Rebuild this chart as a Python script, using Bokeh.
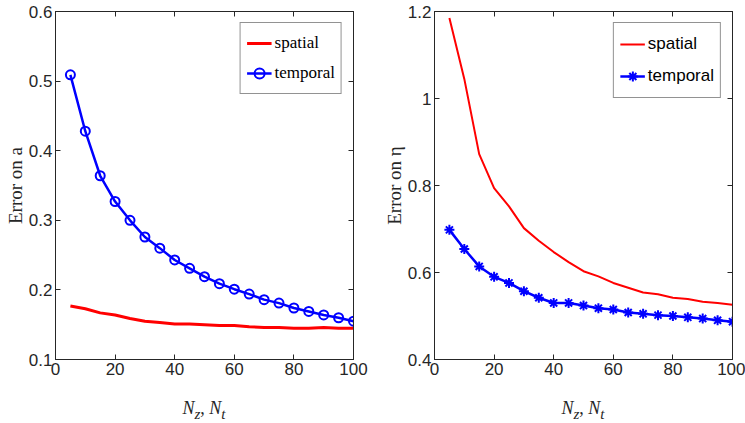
import numpy as np
from bokeh.plotting import figure
from bokeh.layouts import row, column
from bokeh.models import LinearAxis, Range1d, FixedTicker, Div
from bokeh.embed import file_html
from bokeh.resources import INLINE

# ---- data ----
n_values = [5, 10, 15, 20, 25, 30, 35, 40, 45, 50, 55, 60, 65, 70, 75, 80, 85, 90, 95, 100]
a_spatial = [0.177, 0.173, 0.167, 0.164, 0.159, 0.155, 0.153, 0.151, 0.151, 0.150,
             0.149, 0.149, 0.147, 0.146, 0.146, 0.145, 0.145, 0.146, 0.145, 0.145]
a_temporal = [0.509, 0.428, 0.364, 0.327, 0.300, 0.276, 0.260, 0.243, 0.231, 0.219,
              0.209, 0.201, 0.194, 0.186, 0.181, 0.174, 0.169, 0.164, 0.160, 0.155]
eta_spatial = [1.185, 1.045, 0.872, 0.794, 0.752, 0.702, 0.673, 0.647, 0.624, 0.603,
               0.591, 0.576, 0.565, 0.554, 0.550, 0.542, 0.539, 0.533, 0.530, 0.526]
eta_temporal = [0.698, 0.654, 0.614, 0.590, 0.576, 0.557, 0.542, 0.530, 0.530, 0.524,
                0.518, 0.515, 0.508, 0.505, 0.502, 0.500, 0.497, 0.494, 0.490, 0.487]
series_names = ["spatial", "temporal"]
x_ticks = [0, 20, 40, 60, 80, 100]
a_ticks = [0.1, 0.2, 0.3, 0.4, 0.5, 0.6]
a_tick_labels = ["0.1", "0.2", "0.3", "0.4", "0.5", "0.6"]
eta_ticks = [0.4, 0.6, 0.8, 1.0, 1.2]
eta_tick_labels = ["0.4", "0.6", "0.8", "1", "1.2"]
x_label_html = "<i>N</i><sub><i>z</i></sub>, <i>N</i><sub><i>t</i></sub>"

DARK = "#262626"
TICK_FONT = "Liberation Sans"


def style_axis(ax, ticks, labels=None, show_labels=True):
    ax.ticker = FixedTicker(ticks=ticks)
    if labels is not None:
        ax.major_label_overrides = {t: l for t, l in zip(ticks, labels)}
    ax.major_tick_in = 5
    ax.major_tick_out = 0
    ax.minor_tick_line_color = None
    ax.axis_line_color = DARK
    ax.major_tick_line_color = DARK
    ax.major_label_text_color = DARK
    ax.major_label_text_font = TICK_FONT
    ax.major_label_text_font_size = "17px" if show_labels else "0px"
    ax.major_label_standoff = 3
    if not show_labels:
        ax.major_label_standoff = 0
        ax.major_label_text_alpha = 0


def make_panel(width, border_left, border_right, y_lo, y_hi, y_ticks, y_labels,
               spatial, temporal, spatial_width, marker, marker_size, ylabel_sym,
               legend_font, legend_h, legend_pad):
    p = figure(width=width, height=395, x_range=Range1d(0, 100), y_range=Range1d(y_lo, y_hi),
               output_backend="svg", toolbar_location=None,
               min_border_left=border_left, min_border_right=border_right,
               min_border_top=11, min_border_bottom=36)
    p.grid.grid_line_color = None
    p.outline_line_color = DARK
    p.background_fill_color = "white"
    p.border_fill_color = "white"

    style_axis(p.xaxis[0], x_ticks)
    style_axis(p.yaxis[0], y_ticks, y_labels)
    top = LinearAxis()
    style_axis(top, x_ticks, show_labels=False)
    right = LinearAxis()
    style_axis(right, y_ticks, show_labels=False)
    p.add_layout(top, "above")
    p.add_layout(right, "right")

    p.yaxis[0].axis_label = "Error on " + ylabel_sym
    p.yaxis[0].axis_label_text_font = "Liberation Serif"
    p.yaxis[0].axis_label_text_font_style = "normal"
    p.yaxis[0].axis_label_text_font_size = "19px"
    p.yaxis[0].axis_label_text_color = DARK
    p.yaxis[0].axis_label_standoff = 0

    p.line(n_values, spatial, line_color="#ff0000", line_width=spatial_width,
           legend_label=series_names[0])
    p.line(n_values, temporal, line_color="#0000ff", line_width=2.5,
           legend_label=series_names[1])
    p.scatter(n_values, temporal, marker=marker, size=marker_size, line_color="#0000ff",
              fill_color=None, line_width=2, legend_label=series_names[1])

    lg = p.legend[0]
    lg.location = "top_right"
    lg.margin = 11
    lg.padding = legend_pad
    lg.spacing = 2
    lg.label_text_font = legend_font
    lg.label_text_font_size = "17px"
    lg.label_text_color = "black"
    lg.glyph_width = 25
    lg.glyph_height = legend_h
    lg.label_height = legend_h
    lg.label_standoff = 3
    lg.border_line_color = DARK
    lg.border_line_width = 1
    lg.background_fill_alpha = 1
    return p


def make_xlabel(width, border_left):
    return Div(text=x_label_html, width=298, height=28, margin=(0, width - border_left - 298, 0, border_left),
               styles={"font-family": "Liberation Serif", "font-size": "18px", "color": DARK,
                       "text-align": "center", "line-height": "26px"})


left = make_panel(372, 55, 19, 0.1, 0.6, a_ticks, a_tick_labels, a_spatial, a_temporal,
                  3, "circle", 9, "a", "Liberation Serif", 28, 6)
right = make_panel(373, 62, 13, 0.4, 1.2, eta_ticks, eta_tick_labels, eta_spatial, eta_temporal,
                   2, "asterisk", 10, "η", "Liberation Sans", 30, 6)

layout = column(row(left, right, spacing=0),
                row(make_xlabel(372, 55), make_xlabel(373, 62), spacing=0),
                spacing=0)
open("out.html", "w").write(file_html(layout, INLINE))
